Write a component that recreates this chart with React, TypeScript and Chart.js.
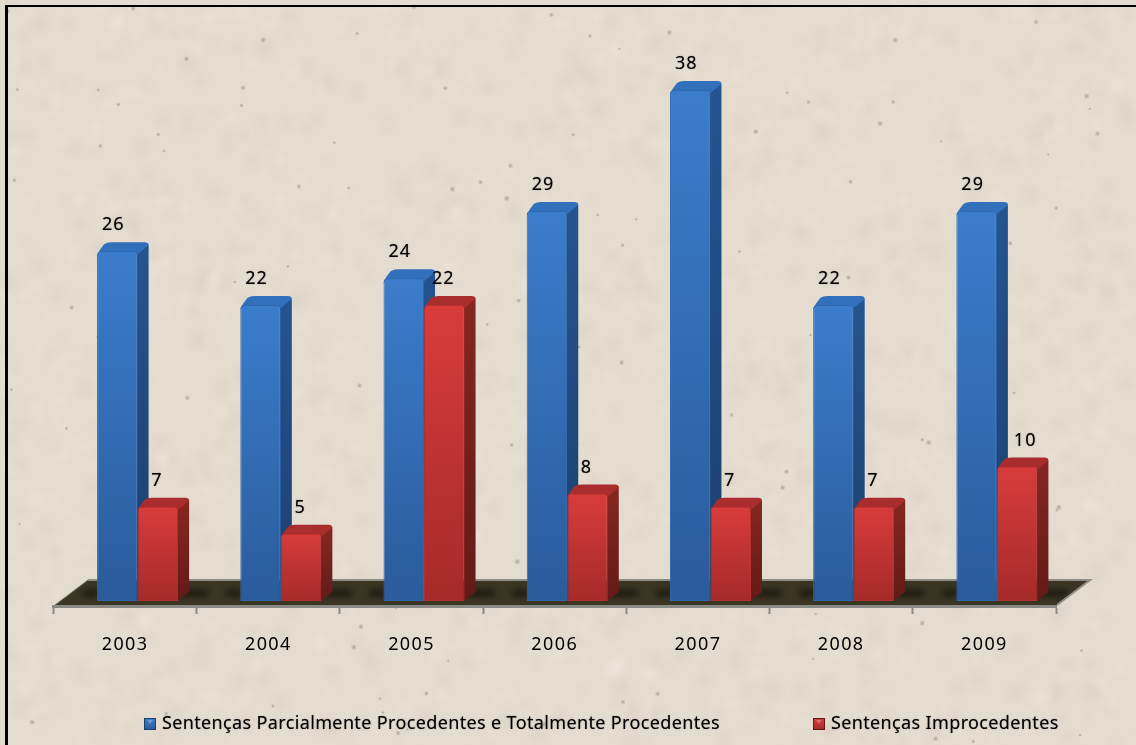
import React, { useEffect, useRef } from "react";
import { Chart, registerables } from "chart.js";

Chart.register(...registerables);

const years = ["2003", "2004", "2005", "2006", "2007", "2008", "2009"];
const procedentes = [26, 22, 24, 29, 38, 22, 29];
const improcedentes = [7, 5, 22, 8, 7, 7, 10];
const seriesNames = [
  "Sentenças Parcialmente Procedentes e Totalmente Procedentes",
  "Sentenças Improcedentes",
];

const FONT = '"Noto Sans", sans-serif';
const INK = "#000000";
const BAR_SHIFT = 12.5; // perspective: bars stand further back on the floor than the tick row
const DEPTH_X = 11;
const DEPTH_Y = 9;
const FLOOR_X = 33;
const FLOOR_Y = 25;

const palettes = [
  { hi: "#3b7dcc", lo: "#2a5b9b", edge: "#2f68ad", top: "#3270bb", sideHi: "#245490", sideLo: "#1b3f6c" },
  { hi: "#d83c3b", lo: "#a52a29", edge: "#b53130", top: "#a92d2c", sideHi: "#84261f", sideLo: "#631a18" },
];

function barGradient(ctx: any, paletteIndex: number) {
  const chart = ctx.chart;
  const p = palettes[paletteIndex];
  const y = chart.scales.y;
  const value = ctx.raw;
  if (!y || ctx.type !== "data" || typeof value !== "number") return p.hi;
  const from = y.getPixelForValue(value);
  const to = y.getPixelForValue(0);
  if (!Number.isFinite(from) || !Number.isFinite(to)) return p.hi;
  const g = chart.ctx.createLinearGradient(0, from, 0, to);
  g.addColorStop(0, p.hi);
  g.addColorStop(1, p.lo);
  return g;
}

function softText(ctx: any) {
  ctx.shadowColor = "rgba(0,0,0,0.45)";
  ctx.shadowBlur = 1.2;
}

let grainCache: HTMLCanvasElement | null = null;

// paper-grain texture from a fixed sequence, decorative only; built once off screen
function grainLayer(width: number, height: number) {
  if (grainCache) return grainCache;
  const blots = document.createElement("canvas");
  blots.width = width;
  blots.height = height;
  const b = blots.getContext("2d") as CanvasRenderingContext2D;
  let s = 20091;
  const next = () => {
    s = (s * 1103515245 + 12345) & 0x7fffffff;
    return s / 0x7fffffff;
  };
  for (let i = 0; i < 1800; i++) {
    const x = next() * width;
    const y = next() * height;
    const r = 2 + next() * 7;
    b.fillStyle = next() < 0.5 ? "rgba(248,242,232,0.16)" : "rgba(190,180,160,0.11)";
    b.beginPath();
    b.arc(x, y, r, 0, Math.PI * 2);
    b.fill();
  }
  const out = document.createElement("canvas");
  out.width = width;
  out.height = height;
  const o = out.getContext("2d") as CanvasRenderingContext2D;
  o.filter = "blur(3px)";
  o.drawImage(blots, 0, 0);
  o.filter = "none";
  for (let i = 0; i < 110; i++) {
    const x = next() * width;
    const y = next() * height;
    const r = 1 + next() * 1.2;
    const g = o.createRadialGradient(x, y, 0, x, y, r * 1.5);
    g.addColorStop(0, "rgba(125,118,105,0.55)");
    g.addColorStop(1, "rgba(125,118,105,0)");
    o.fillStyle = g;
    o.beginPath();
    o.arc(x, y, r * 1.5, 0, Math.PI * 2);
    o.fill();
  }
  grainCache = out;
  return out;
}

function paintPaper(chart: any) {
  const { ctx, width, height } = chart;
  ctx.save();
  ctx.fillStyle = "#e4dccf";
  ctx.fillRect(0, 0, width, height);
  ctx.drawImage(grainLayer(width, height), 0, 0);
  // frame
  ctx.fillStyle = "#000";
  ctx.fillRect(5, 5, width - 5, 2);
  ctx.fillRect(5, 5, 3, height - 5);
  ctx.restore();
}

function paintFloor(chart: any) {
  const { ctx, chartArea: a } = chart;
  const fl = a.left + 1.5;
  const fr = a.right + 1;
  const fy = a.bottom - 1;
  ctx.save();
  ctx.beginPath();
  ctx.moveTo(fl, fy);
  ctx.lineTo(fl + FLOOR_X, fy - FLOOR_Y);
  ctx.lineTo(fr + FLOOR_X, fy - FLOOR_Y);
  ctx.lineTo(fr, fy);
  ctx.closePath();
  ctx.fillStyle = "#3b3524";
  ctx.fill();
  ctx.save();
  ctx.clip();
  // soft contact shadows on both flanks of each group
  const blue = chart.getDatasetMeta(0).data;
  const red = chart.getDatasetMeta(1).data;
  ctx.filter = "blur(3px)";
  ctx.fillStyle = "rgba(22,19,11,0.9)";
  ctx.beginPath();
  red.forEach((el: any, i: number) => {
    const b = blue[i];
    ctx.rect(el.x + BAR_SHIFT + el.width / 2, el.base - 11, 30, 6);
    ctx.rect(b.x + BAR_SHIFT - b.width / 2 - 14, b.base - 11, 16, 6);
  });
  ctx.fill();
  ctx.filter = "none";
  ctx.restore();
  ctx.strokeStyle = "#8d8d86";
  ctx.lineWidth = 2;
  ctx.beginPath();
  ctx.moveTo(fl + FLOOR_X, fy - FLOOR_Y);
  ctx.lineTo(fr + FLOOR_X, fy - FLOOR_Y);
  ctx.lineTo(fr, fy);
  ctx.stroke();
  ctx.strokeStyle = "#77756c";
  ctx.lineWidth = 1;
  ctx.beginPath();
  ctx.moveTo(fl, fy);
  ctx.lineTo(fl + FLOOR_X, fy - FLOOR_Y);
  ctx.stroke();
  ctx.restore();
}

function paintBarBodies(chart: any) {
  const { ctx } = chart;
  [0, 1].forEach((di) => {
    const p = palettes[di];
    chart.getDatasetMeta(di).data.forEach((el: any) => {
      const l = el.x - el.width / 2;
      const r = el.x + el.width / 2;
      const t = el.y;
      const b = el.base;
      const side = ctx.createLinearGradient(0, t, 0, b);
      side.addColorStop(0, p.sideHi);
      side.addColorStop(1, p.sideLo);
      ctx.fillStyle = side;
      ctx.beginPath();
      ctx.moveTo(r - 1, t + 1);
      ctx.lineTo(r + DEPTH_X - 3, t - DEPTH_Y + 1);
      ctx.quadraticCurveTo(r + DEPTH_X, t - DEPTH_Y + 1, r + DEPTH_X, t - DEPTH_Y + 4);
      ctx.lineTo(r + DEPTH_X, b - DEPTH_Y);
      ctx.lineTo(r - 1, b);
      ctx.closePath();
      ctx.fill();
      ctx.fillStyle = p.top;
      ctx.beginPath();
      ctx.moveTo(l, t + 4);
      ctx.quadraticCurveTo(l + 2, t - 1, l + DEPTH_X - 4, t - DEPTH_Y + 2);
      ctx.quadraticCurveTo(l + DEPTH_X - 1, t - DEPTH_Y, l + DEPTH_X + 3, t - DEPTH_Y);
      ctx.lineTo(r + DEPTH_X - 4, t - DEPTH_Y);
      ctx.quadraticCurveTo(r + DEPTH_X, t - DEPTH_Y, r + DEPTH_X, t - DEPTH_Y + 3);
      ctx.lineTo(r, t + 3);
      ctx.closePath();
      ctx.fill();
    });
  });
}

function paintValueLabels(chart: any) {
  const { ctx } = chart;
  ctx.save();
  ctx.font = `18px ${FONT}`;
  ctx.fillStyle = INK;
  ctx.textAlign = "center";
  ctx.textBaseline = "middle";
  (ctx as any).letterSpacing = "1px";
  softText(ctx);
  [0, 1].forEach((di) => {
    const values = chart.data.datasets[di].data as number[];
    chart.getDatasetMeta(di).data.forEach((el: any, i: number) => {
      const nudge = di === 0 ? -4 : values[i] === 10 ? 8 : -1;
      ctx.fillText(String(values[i]), el.x + nudge, el.y - 26);
    });
  });
  ctx.restore();
}

function paintLegend(chart: any) {
  const { ctx } = chart;
  const y = 724;
  const starts = [144, 813];
  ctx.save();
  ctx.font = `18px ${FONT}`;
  ctx.textBaseline = "middle";
  ctx.textAlign = "left";
  (ctx as any).letterSpacing = "0.36px";
  seriesNames.forEach((name, i) => {
    const p = palettes[i];
    const x = starts[i];
    const g = ctx.createLinearGradient(0, y - 6, 0, y + 6);
    g.addColorStop(0, p.hi);
    g.addColorStop(1, p.lo);
    ctx.fillStyle = p.sideLo;
    ctx.fillRect(x, y - 6, 12, 12);
    ctx.fillStyle = g;
    ctx.fillRect(x + 1, y - 5, 10, 10);
    ctx.fillStyle = "rgba(255,255,255,0.28)";
    ctx.beginPath();
    ctx.moveTo(x + 3, y - 4);
    ctx.lineTo(x + 9, y - 4);
    ctx.lineTo(x + 6, y);
    ctx.closePath();
    ctx.fill();
    ctx.save();
    ctx.fillStyle = INK;
    softText(ctx);
    ctx.fillText(name, x + 18, y);
    ctx.restore();
  });
  ctx.restore();
}

const scenePlugin = {
  id: "scene",
  beforeDraw(chart: any) {
    paintPaper(chart);
    (chart.ctx as any).letterSpacing = "1.4px";
  },
  beforeDatasetsDraw(chart: any) {
    (chart.ctx as any).letterSpacing = "0px";
    paintFloor(chart);
    chart.ctx.save();
    chart.ctx.translate(BAR_SHIFT, 0);
    paintBarBodies(chart);
  },
  afterDatasetsDraw(chart: any) {
    paintValueLabels(chart);
    chart.ctx.restore();
    paintLegend(chart);
  },
};

const barStyle = {
  borderWidth: 1,
  borderRadius: { topLeft: 4, topRight: 3, bottomLeft: 0, bottomRight: 0 },
  borderSkipped: false,
  clip: false,
};

export default function App() {
  const ref = useRef<HTMLCanvasElement | null>(null);

  useEffect(() => {
    document.body.style.margin = "0";
    const canvas = ref.current;
    if (!canvas) return;
    const chart = new Chart(canvas, {
      type: "bar",
      data: {
        labels: years,
        datasets: [
          {
            label: seriesNames[0],
            data: procedentes,
            backgroundColor: (c: any) => barGradient(c, 0),
            borderColor: palettes[0].edge,
            ...barStyle,
          },
          {
            label: seriesNames[1],
            data: improcedentes,
            backgroundColor: (c: any) => barGradient(c, 1),
            borderColor: palettes[1].edge,
            ...barStyle,
          },
        ],
      } as any,
      plugins: [scenePlugin],
      options: {
        responsive: false,
        animation: false,
        maintainAspectRatio: false,
        layout: { padding: { left: 53.5, right: 80, top: 63, bottom: 0 } },
        categoryPercentage: 0.566,
        barPercentage: 1,
        plugins: {
          legend: { display: false },
          tooltip: { enabled: false },
          title: { display: false },
        },
        scales: {
          x: {
            offset: true,
            border: { color: "#8a8a84", width: 3 },
            grid: {
              offset: true,
              drawOnChartArea: false,
              drawTicks: true,
              tickLength: 8,
              tickWidth: 2,
              tickColor: "#8a8a84",
            },
            ticks: {
              color: INK,
              font: { family: "Noto Sans", size: 18 },
              padding: 20,
              maxRotation: 0,
            },
            afterFit: (s: any) => {
              s.height = 139;
            },
          },
          y: {
            display: false,
            min: -0.372,
            max: 40,
          },
        },
      } as any,
    });
    return () => chart.destroy();
  }, []);

  return (
    <div style={{ width: 1136, height: 745, overflow: "hidden" }}>
      <canvas ref={ref} width={1136} height={745} style={{ display: "block" }} />
    </div>
  );
}
